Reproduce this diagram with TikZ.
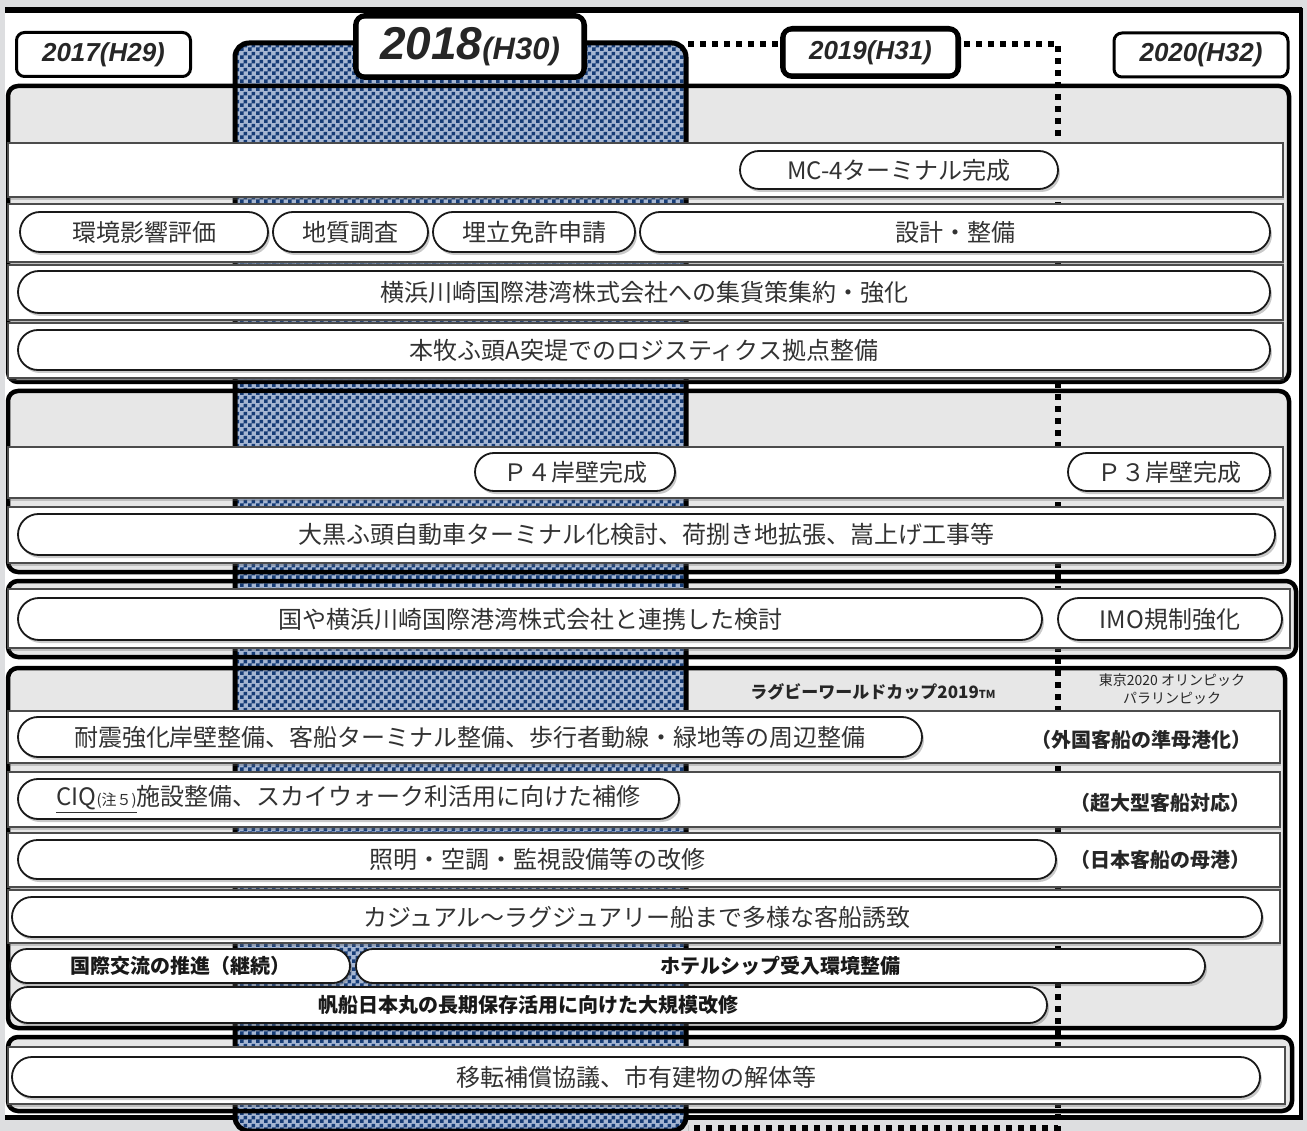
\documentclass[tikz,border=0pt]{standalone}
\usepackage{fontspec}
\setmainfont{Liberation Sans}
\newfontfamily\jp{Noto Sans CJK JP}
\newfontfamily\yr{Liberation Sans}
\usetikzlibrary{shapes.misc,shadows,patterns}

\definecolor{bgout}{RGB}{221,222,224}
\definecolor{grp}{RGB}{231,231,231}
\definecolor{navy}{RGB}{22,60,118}
\definecolor{colbase}{RGB}{165,182,210}
\definecolor{txt}{RGB}{50,50,50}

\pgfdeclarepatternformonly{bigcheck}{\pgfqpoint{0pt}{0pt}}{\pgfqpoint{8pt}{8pt}}{\pgfqpoint{8pt}{8pt}}{%
 \pgfpathrectangle{\pgfqpoint{0pt}{0pt}}{\pgfqpoint{4pt}{4pt}}%
 \pgfpathrectangle{\pgfqpoint{4pt}{4pt}}{\pgfqpoint{4pt}{4pt}}%
 \pgfusepath{fill}}

\tikzset{
 grpfill/.style={fill=grp, rounded corners=10pt},
 grpline/.style={draw=black, line width=4.5pt, rounded corners=10pt},
 band/.style={fill=white, draw=black!70, line width=1.3pt,
   drop shadow={shadow xshift=1pt, shadow yshift=-3pt, opacity=0.3, fill=black!60}},
 pill/.style={shape=rounded rectangle, draw=black!90, line width=1.8pt, fill=white,
   inner sep=0pt, font=\jp\fontsize{24}{24}\selectfont, text=txt,
   drop shadow={shadow xshift=2pt, shadow yshift=-3pt, opacity=0.35, fill=black!60}},
 boldpill/.style={pill, font=\jp\bfseries\fontsize{20}{20}\selectfont, text=black!90},
 yearbox/.style={draw=black, line width=3pt, fill=white, rounded corners=8pt, inner sep=0pt,
   font=\yr\bfseries\itshape\fontsize{26}{26}\selectfont, text=black!85},
 note/.style={font=\jp\bfseries\fontsize{20}{20}\selectfont, text=black!85, inner sep=0pt},
 dotline/.style={line width=6pt, dash pattern=on 6pt off 6pt}
}

\begin{document}
\begin{tikzpicture}[x=1pt,y=-1pt]
\useasboundingbox (0,0) rectangle (1307,1131);
\clip (0,0) rectangle (1307,1131);
\fill[bgout] (0,0) rectangle (1307,1131);
\fill[white] (5,8) rectangle (1302,1117);
% panel border
\draw[line width=6pt] (5,10) -- (1302,10);
\draw[line width=4pt] (1301,8) -- (1301,1117);
\draw[line width=5pt] (5,1117) -- (1303,1117);

% group fills
\fill[grpfill] (8,86) rectangle (1289,382);
\fill[grpfill] (8,391) rectangle (1289,572);
\fill[grpfill] (8,581) rectangle (1296,657);
\fill[grpfill] (8,668) rectangle (1285,1028);
\fill[grpfill] (8,1037) rectangle (1292,1111);

% 2018 column
\fill[colbase, rounded corners=14pt] (235,43) rectangle (686,1131);
\fill[pattern=bigcheck, pattern color=navy, rounded corners=14pt] (235,43) rectangle (686,1131);
\draw[line width=5pt, rounded corners=14pt] (235,43) rectangle (686,1131);

% group borders
\draw[grpline] (8,86) rectangle (1289,382);
\draw[grpline] (8,391) rectangle (1289,572);
\draw[grpline] (8,581) rectangle (1296,657);
\draw[grpline] (8,668) rectangle (1285,1028);
\draw[grpline] (8,1037) rectangle (1292,1111);

% 2019 dotted frame
\draw[dotline] (688,44) -- (1058,44) -- (1058,1128) -- (688,1128);

% bands
\draw[band] (8,143) rectangle (1283,197);
\draw[band] (8,204) rectangle (1283,262);
\draw[band] (8,265) rectangle (1283,320);
\draw[band] (8,323) rectangle (1283,378);
\draw[band] (8,447) rectangle (1283,498);
\draw[band] (8,507) rectangle (1283,563);
\draw[band] (8,589) rectangle (1290,648);
\draw[band] (8,711) rectangle (1280,763);
\draw[band] (8,772) rectangle (1280,827);
\draw[band] (8,833) rectangle (1280,887);
\draw[band] (8,890) rectangle (1280,943);
\draw[band] (8,1047) rectangle (1285,1104);

% pills group 1
\node[pill, minimum width=318pt, minimum height=38pt] (mc4) at (899,170) {MC-4ターミナル完成};
\node[pill, minimum width=248pt, minimum height=40pt] (kankyo) at (144,232) {環境影響評価};
\node[pill, minimum width=155pt, minimum height=40pt] (chishitsu) at (350.5,232) {地質調査};
\node[pill, minimum width=202pt, minimum height=40pt] (umetate) at (534,232) {埋立免許申請};
\node[pill, minimum width=630pt, minimum height=40pt] (sekkei) at (955,232) {設計・整備};
\node[pill, minimum width=1252pt, minimum height=42pt] (shuka) at (644,292) {横浜川崎国際港湾株式会社への集貨策集約・強化};
\node[pill, minimum width=1252pt, minimum height=40pt] (honmoku) at (644,350) {本牧ふ頭A突堤でのロジスティクス拠点整備};

% group 2
\node[pill, minimum width=200pt, minimum height=38pt] (p4) at (575,472) {Ｐ４岸壁完成};
\node[pill, minimum width=202pt, minimum height=38pt] (p3) at (1169,472) {Ｐ３岸壁完成};
\node[pill, minimum width=1257pt, minimum height=41pt] (daikoku) at (646.5,534.5) {大黒ふ頭自動車ターミナル化検討、荷捌き地拡張、嵩上げ工事等};

% group 3
\node[pill, minimum width=1024pt, minimum height=42pt] (kuni) at (530,619) {国や横浜川崎国際港湾株式会社と連携した検討};
\node[pill, minimum width=224pt, minimum height=42pt] (imo) at (1170,619) {IMO規制強化};

% group 4
\node[font=\jp\bfseries\fontsize{17}{17}\selectfont, text=black!85, inner sep=0pt] (rugby) at (873,692) {ラグビーワールドカップ2019{\fontsize{11}{11}\selectfont TM}};
\node[font=\jp\fontsize{14}{18}\selectfont, text=black!85, align=center, inner sep=0pt] (tokyo) at (1172,689) {東京2020 オリンピック\\パラリンピック};
\node[pill, minimum width=904pt, minimum height=40pt] (taishin) at (470,737) {耐震強化岸壁整備、客船ターミナル整備、歩行者動線・緑地等の周辺整備};
\node[note] (gaikoku) at (1141,740) {（外国客船の準母港化）};
\node[pill, minimum width=661pt, minimum height=40pt] (ciq) at (348.5,799) {\underline{CIQ{\fontsize{15}{15}\selectfont(注５)}}施設整備、スカイウォーク利活用に向けた補修};
\node[note] (chodai) at (1160,803) {（超大型客船対応）};
\node[pill, minimum width=1038pt, minimum height=39pt] (shomei) at (537,859.5) {照明・空調・監視設備等の改修};
\node[note] (nihon) at (1160,860) {（日本客船の母港）};
\node[pill, minimum width=1250pt, minimum height=40pt] (casual) at (637,917) {カジュアル～ラグジュアリー船まで多様な客船誘致};
\node[boldpill, minimum width=340pt, minimum height=34pt] (kokusai) at (180,966) {国際交流の推進（継続）};
\node[boldpill, minimum width=849pt, minimum height=34pt] (hotel) at (780.5,966) {ホテルシップ受入環境整備};
\node[boldpill, minimum width=1037pt, minimum height=36pt] (hansen) at (528.5,1005) {帆船日本丸の長期保存活用に向けた大規模改修};

% group 5
\node[pill, minimum width=1248pt, minimum height=40pt] (iten) at (636,1077) {移転補償協議、市有建物の解体等};

% year boxes
\node[yearbox, minimum width=174pt, minimum height=44pt] (y17) at (103.5,54.5) {2017(H29)};
\node[yearbox, line width=5pt, rounded corners=10pt, minimum width=229pt, minimum height=62pt] (y18) at (470,46.5)
  {{\fontsize{46}{46}\selectfont 2018}{\fontsize{31}{31}\selectfont(H30)}};
\draw[line width=1.2pt, rounded corners=6pt] ([xshift=5pt,yshift=-5pt]y18.north west) rectangle ([xshift=-5pt,yshift=5pt]y18.south east);
\node[yearbox, line width=5pt, rounded corners=10pt, minimum width=176pt, minimum height=48pt] (y19) at (870.5,52.5) {2019(H31)};
\draw[line width=1.2pt, rounded corners=6pt] ([xshift=5pt,yshift=-5pt]y19.north west) rectangle ([xshift=-5pt,yshift=5pt]y19.south east);
\node[yearbox, minimum width=174pt, minimum height=44pt] (y20) at (1201,55) {2020(H32)};
\end{tikzpicture}
\end{document}
